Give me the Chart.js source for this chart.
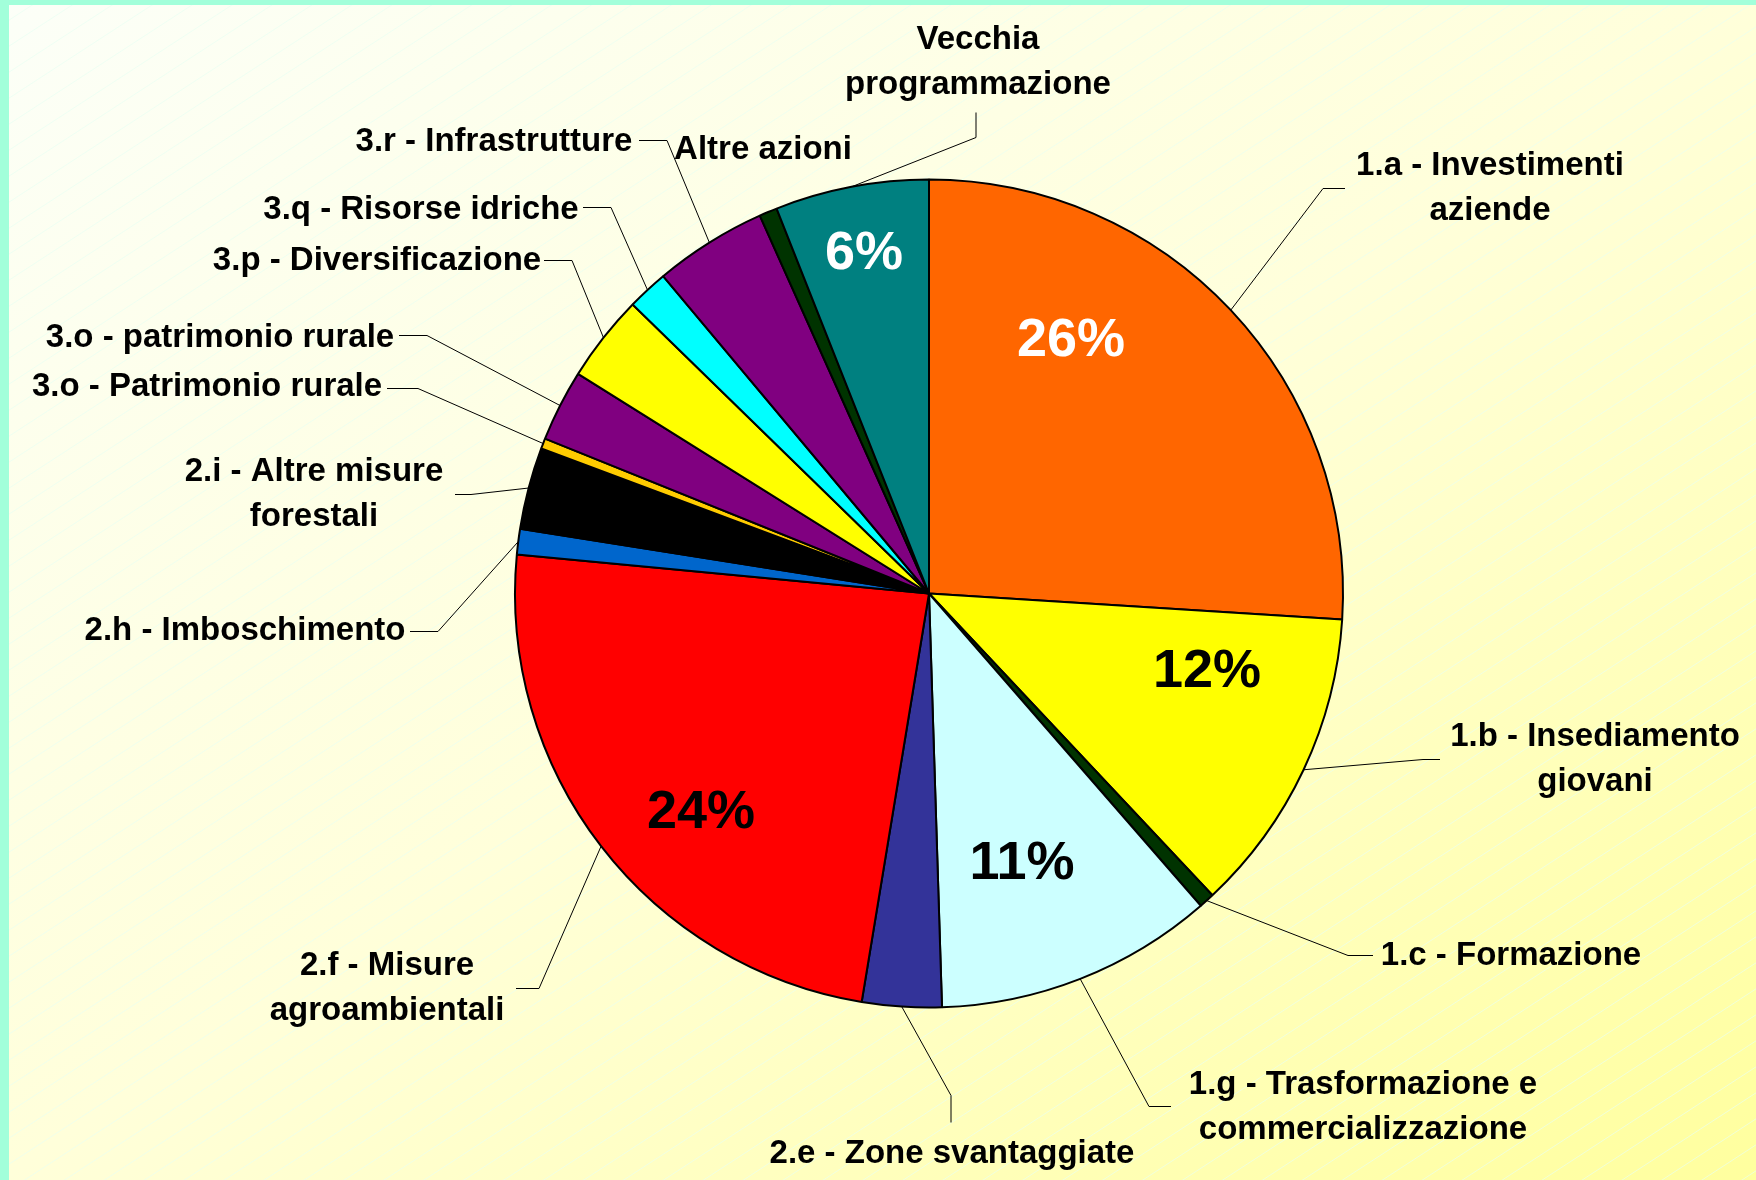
<!DOCTYPE html>
<html><head><meta charset="utf-8">
<script src="https://cdn.jsdelivr.net/npm/chart.js@4/dist/chart.umd.min.js"></script>
<style>
html,body{margin:0;padding:0;overflow:hidden;background:#FFFFE0}
#wrap{position:relative;width:1756px;height:1180px}
</style>
</head><body><div id="wrap"><canvas id="c"></canvas></div>
<script>
// ---- data ----
const categories = [
  "1.a - Investimenti aziende", "1.b - Insediamento giovani", "1.c - Formazione",
  "1.g - Trasformazione e commercializzazione", "2.e - Zone svantaggiate",
  "2.f - Misure agroambientali", "2.h - Imboschimento", "2.i - Altre misure forestali",
  "3.o - Patrimonio rurale", "3.o - patrimonio rurale", "3.p - Diversificazione",
  "3.q - Risorse idriche", "3.r - Infrastrutture", "Altre azioni", "Vecchia programmazione"
];
const shares = [26.0, 12.0, 0.6, 10.9, 3.1, 23.9, 1.0, 3.2, 0.4, 2.8, 3.4, 1.6, 4.4, 0.7, 6.0];
const labelLines = [
  ["1.a - Investimenti", "aziende"], ["1.b - Insediamento", "giovani"], ["1.c - Formazione"],
  ["1.g - Trasformazione e", "commercializzazione"], ["2.e - Zone svantaggiate"],
  ["2.f - Misure", "agroambientali"], ["2.h - Imboschimento"], ["2.i - Altre misure", "forestali"],
  ["3.o - Patrimonio rurale"], ["3.o - patrimonio rurale"], ["3.p - Diversificazione"],
  ["3.q - Risorse idriche"], ["3.r - Infrastrutture"], ["Altre azioni"], ["Vecchia", "programmazione"]
];
const percentMin = 5; // only slices of at least this share show a percentage

// ---- styles / layout ----
const sliceColors = ["#FF6600", "#FFFF00", "#003300", "#CCFFFF", "#333399", "#FF0000", "#0066CC",
  "#000000", "#FFCC00", "#800080", "#FFFF00", "#00FFFF", "#800080", "#003300", "#008080"];
const pctColors = ["#FFFFFF", "#000000", "#000000", "#000000", "#000000", "#000000", "#000000",
  "#000000", "#000000", "#000000", "#000000", "#000000", "#000000", "#000000", "#FFFFFF"];
// label text centre, leader elbow and leader end, as offsets from the pie centre
const labelLayout = [
  {t: [561, -407], e: [394, -405], f: [416, -405]},
  {t: [666, 164], e: [494, 166], f: [511, 166]},
  {t: [582, 360], e: [419, 362], f: [444, 362]},
  {t: [434, 512], e: [220, 513], f: [242, 513]},
  {t: [23, 558], e: [22, 502], f: [22, 529]},
  {t: [-542, 393], e: [-390, 395], f: [-413, 395]},
  {t: [-684, 35], e: [-491, 38], f: [-519, 38]},
  {t: [-615, -101], e: [-458, -99], f: [-474, -99]},
  {t: [-722, -209], e: [-511, -205], f: [-542, -205]},
  {t: [-709, -258], e: [-502, -258], f: [-530, -258]},
  {t: [-552, -335], e: [-357, -333], f: [-385, -333]},
  {t: [-508, -386], e: [-318, -386], f: [-346, -386]},
  {t: [-435, -454], e: [-262, -453], f: [-290, -453]},
  {t: [-166, -446], e: null, f: null},
  {t: [49, -533], e: [47, -456], f: [47, -481]}
];
const pctLayout = {0: [142, -254], 1: [278, 77], 3: [93, 269], 5: [-228, 218], 14: [-65, -341]};
const TEXT_DY = 2;
const FONT = '"Liberation Sans", Arial, Helvetica, sans-serif';

const bgPlugin = {
  id: 'bg',
  beforeDraw(chart) {
    const ctx = chart.ctx, W = chart.width, H = chart.height;
    ctx.save();
    const k = 2 / (H / W + W / H);
    const g = ctx.createLinearGradient(0, 0, k * H, k * W);
    g.addColorStop(0, '#FCFFF8');
    g.addColorStop(0.5, '#FFFFDA');
    g.addColorStop(1, '#FFFF9E');
    ctx.fillStyle = g;
    ctx.fillRect(0, 0, W, H);
    ctx.strokeStyle = 'rgba(232,255,242,0.65)';
    ctx.lineWidth = 1;
    const slope = 0.651;
    for (let c = 0; c < H + slope * W + 40; c += 26) {
      ctx.beginPath();
      ctx.moveTo(0, c);
      ctx.lineTo(W, c - slope * W);
      ctx.stroke();
    }
    ctx.fillStyle = '#A2FFDA';
    ctx.fillRect(0, 0, W, 5);
    ctx.fillRect(0, 0, 9, H);
    ctx.restore();
  }
};

const labelPlugin = {
  id: 'labels',
  afterDraw(chart) {
    const ctx = chart.ctx;
    const meta = chart.getDatasetMeta(0);
    const data = chart.data.datasets[0].data;
    const total = data.reduce((a, b) => a + b, 0);
    ctx.save();
    meta.data.forEach((arc, i) => {
      const p = arc.getProps(['x', 'y', 'startAngle', 'endAngle', 'outerRadius'], true);
      const cx = p.x, cy = p.y;
      const mid = (p.startAngle + p.endAngle) / 2;
      const ax = cx + Math.cos(mid) * p.outerRadius, ay = cy + Math.sin(mid) * p.outerRadius;
      const L = labelLayout[i];
      if (L.e) {
        ctx.strokeStyle = '#000';
        ctx.lineWidth = 1;
        ctx.beginPath();
        ctx.moveTo(ax, ay);
        ctx.lineTo(cx + L.e[0], cy + L.e[1]);
        ctx.lineTo(cx + L.f[0], cy + L.f[1]);
        ctx.stroke();
      }
      ctx.fillStyle = '#000';
      ctx.font = 'bold 33px ' + FONT;
      ctx.textAlign = 'center';
      ctx.textBaseline = 'middle';
      const lines = labelLines[i];
      lines.forEach((s, k) => {
        ctx.fillText(s, cx + L.t[0], cy + L.t[1] + TEXT_DY + (k - (lines.length - 1) / 2) * 45);
      });
      const pct = data[i] / total * 100;
      if (pct >= percentMin && pctLayout[i]) {
        ctx.fillStyle = pctColors[i];
        ctx.font = 'bold 54px ' + FONT;
        ctx.fillText(Math.round(pct) + '%', cx + pctLayout[i][0], cy + pctLayout[i][1] + TEXT_DY);
      }
    });
    ctx.restore();
  }
};

new Chart(document.getElementById('c'), {
  type: 'pie',
  data: {
    labels: categories,
    datasets: [{
      data: shares,
      backgroundColor: sliceColors,
      borderColor: '#000000',
      borderWidth: 2,
      radius: 414
    }]
  },
  options: {
    responsive: true,
    maintainAspectRatio: false,
    animation: false,
    events: [],
    layout: {padding: {left: 102, right: 0, top: 7, bottom: 0}},
    plugins: {legend: {display: false}, tooltip: {enabled: false}}
  },
  plugins: [bgPlugin, labelPlugin]
});
</script>
</body></html>
